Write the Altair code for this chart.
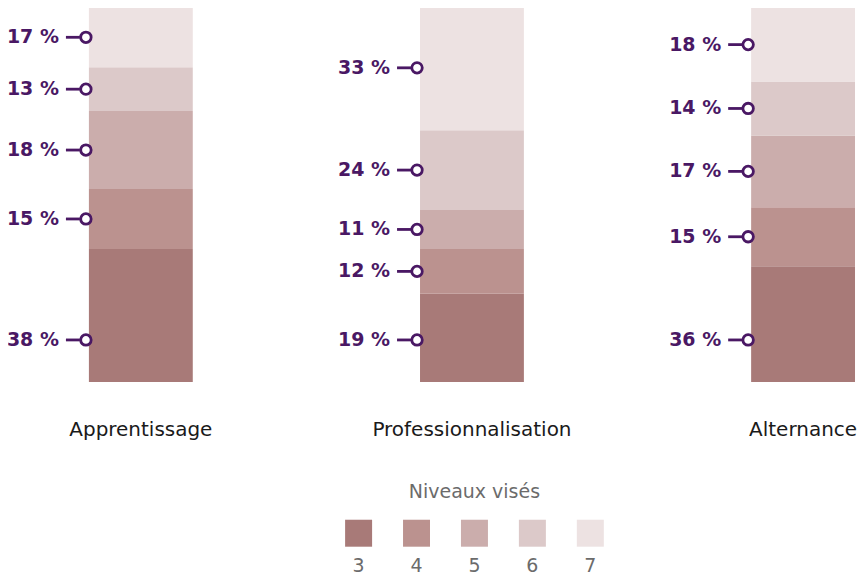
import altair as alt
import pandas as pd

# ---- data ----
categories = ["Apprentissage", "Professionnalisation", "Alternance"]
levels = ["3", "4", "5", "6", "7"]
level_colors = ["#a87a78", "#bb928f", "#cbadac", "#dcc9c9", "#ede2e2"]

# printed percentages (levels 3 -> 7)
label_pct = {
    "Apprentissage": [38, 15, 18, 13, 17],
    "Professionnalisation": [19, 12, 11, 24, 33],
    "Alternance": [36, 15, 17, 14, 18],
}
# drawn segment heights, as share of the bar (levels 3 -> 7)
segment_share = {
    "Apprentissage": [35.5, 16.0, 20.8, 11.7, 16.0],
    "Professionnalisation": [23.5, 12.0, 10.4, 21.3, 33.3],
    "Alternance": [30.9, 15.7, 19.2, 14.4, 19.7],
}
bottom_label_at = 11.2  # where the level-3 label sits on the bar

PURPLE = "#4a1864"
FONT = "DejaVu Sans"

rows = []
for c in categories:
    base = 0.0
    for lv, sh, pct in zip(levels, segment_share[c], label_pct[c]):
        mid = base + sh / 2
        rows.append(
            dict(
                cat=c,
                level=lv,
                y0=base,
                y1=base + sh,
                ylab=bottom_label_at if lv == "3" else mid,
                txt=f"{pct} %",
            )
        )
        base += sh
df = pd.DataFrame(rows)

xscale = alt.Scale(domain=categories, range=[80, 847], paddingInner=0.6863, paddingOuter=0)
yscale = alt.Scale(domain=[0, 100], nice=False)
cscale = alt.Scale(domain=levels, range=level_colors)

base = alt.Chart(df)

bars = base.mark_bar(opacity=1).encode(
    x=alt.X(
        "cat:N",
        scale=xscale,
        sort=categories,
        axis=alt.Axis(
            title=None,
            domain=False,
            ticks=False,
            labelAngle=0,
            labelFont=FONT,
            labelFontSize=20,
            labelColor="#1a1a1a",
            labelPadding=38,
            labelLimit=0,
        ),
    ),
    y=alt.Y("y0:Q", scale=yscale, axis=None),
    y2="y1:Q",
    color=alt.Color("level:N", scale=cscale, legend=None),
)

xstart = alt.X("cat:N", scale=xscale, sort=categories, bandPosition=0)

rules = base.mark_rule(color=PURPLE, strokeWidth=2.8, xOffset=-23, x2Offset=-9).encode(
    x=xstart,
    x2=alt.X2("cat:N", bandPosition=0),
    y=alt.Y("ylab:Q", scale=yscale),
)

dots = base.mark_point(
    shape="circle", filled=True, fill="white", stroke=PURPLE, strokeWidth=2.8,
    size=110, opacity=1, xOffset=-3,
).encode(
    x=xstart,
    y=alt.Y("ylab:Q", scale=yscale),
)

texts = base.mark_text(
    align="right", baseline="middle", dx=-30, font=FONT, fontSize=19,
    fontWeight="bold", color=PURPLE,
).encode(
    x=xstart,
    y=alt.Y("ylab:Q", scale=yscale),
    text="txt:N",
)

top = alt.layer(bars, rules, dots, texts).properties(width=852, height=375)

leg_df = pd.DataFrame({"level": levels})
legend = (
    alt.Chart(leg_df)
    .mark_bar(opacity=1)
    .encode(
        x=alt.X(
            "level:N",
            sort=levels,
            scale=alt.Scale(domain=levels, range=[336.5, 595.5], paddingInner=0.534, paddingOuter=0),
            axis=alt.Axis(
                title=None, domain=False, ticks=False, labelAngle=0,
                labelFont=FONT, labelFontSize=19, labelColor="#6b6b6b", labelPadding=10,
            ),
        ),
        color=alt.Color("level:N", scale=cscale, legend=None),
    )
    .properties(
        width=852,
        height=27,
        title=alt.TitleParams(
            "Niveaux visés", font=FONT, fontSize=19, fontWeight="normal",
            color="#6b6b6b", anchor="middle", dx=40, offset=3, baseline="alphabetic",
        ),
    )
)

chart = (
    alt.vconcat(top, legend, spacing=43)
    .properties(padding={"left": -2, "top": -3, "right": 0, "bottom": 0})
    .configure_view(stroke=None)
)

chart.save("out.html", embed_options={"renderer": "svg", "actions": False})
